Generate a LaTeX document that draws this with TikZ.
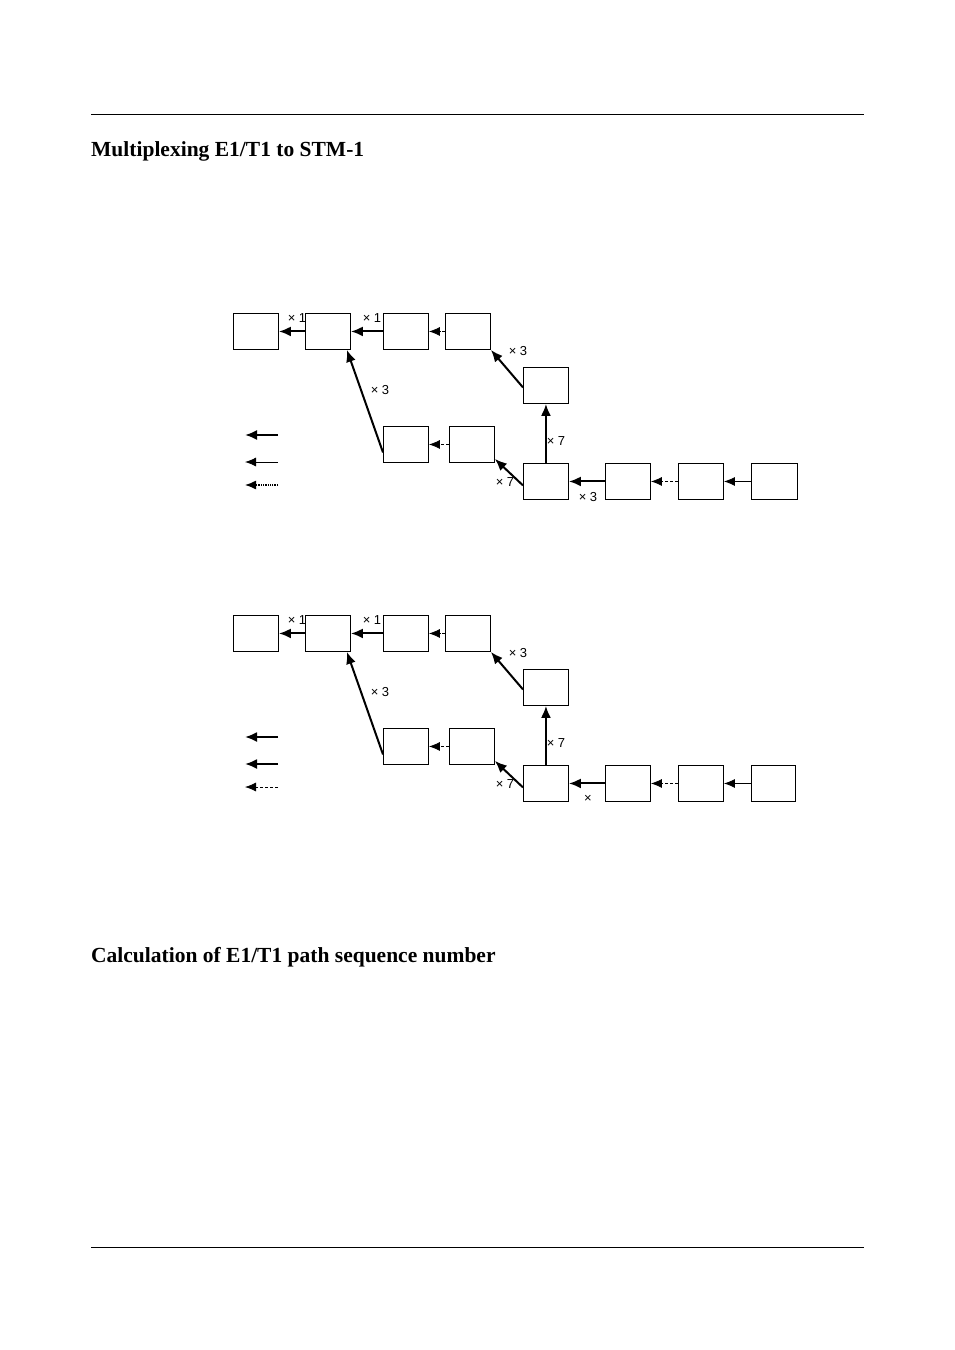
\documentclass[tikz,border=0pt]{standalone}
\usepackage{fontspec}
\setmainfont{Liberation Serif}
\setsansfont{Liberation Sans}
\usetikzlibrary{arrows.meta}
\begin{document}
\begin{tikzpicture}[x=1pt,y=-1pt,
  bx/.style={draw,line width=0.9pt,minimum width=45pt,minimum height=36pt,inner sep=0pt,anchor=north west},
  thk/.style={line width=2pt,-{Latex[length=12pt,width=10pt]}},
  thn/.style={line width=0.9pt,-{Latex[length=11pt,width=9pt]}},
  dsh/.style={line width=0.8pt,densely dashed,-{Latex[length=11pt,width=9pt]}},
  dot/.style={line width=1.3pt,densely dotted,-{Latex[length=11pt,width=9pt]}},
  lb/.style={font=\sffamily\fontsize{13}{15}\selectfont,inner sep=1pt}]
\useasboundingbox (0,0) rectangle (954,1350);
\draw[line width=0.8pt] (91,114) -- (864,114);
\draw[line width=0.8pt] (91,1247) -- (864,1247);
\node[anchor=base west,inner sep=0pt,font=\bfseries\fontsize{21.5}{24}\selectfont] (h1) at (91,156) {Multiplexing E1/T1 to STM-1};
\node[anchor=base west,inner sep=0pt,font=\bfseries\fontsize{21.5}{24}\selectfont] (h2) at (91,962) {Calculation of E1/T1 path sequence number};
\foreach \o/\s/\kw/\third in {0/a/46/{× 3}, 302/b/44/{×}}{
\begin{scope}[yshift=-\o pt]
\node[bx] (A\s) at (233,313) {};
\node[bx] (B\s) at (305,313) {};
\node[bx] (C\s) at (383,313) {};
\node[bx] (D\s) at (445,313) {};
\node[bx] (E\s) at (523,367) {};
\node[bx] (F\s) at (383,426) {};
\node[bx] (G\s) at (449,426) {};
\node[bx] (H\s) at (523,463) {};
\node[bx] (I\s) at (605,463) {};
\node[bx] (J\s) at (678,463) {};
\node[bx,minimum width=\kw pt] (K\s) at (751,463) {};
\draw[thk] (B\s.west) -- (A\s.east);
\draw[thk] (C\s.west) -- (B\s.east);
\draw[dsh] (D\s.west) -- (C\s.east);
\draw[thk] ([yshift=-2pt]E\s.west) -- (D\s.south east);
\draw[thk] (H\s.north) -- (E\s.south);
\draw[thk] ([yshift=-8pt]F\s.west) -- ([xshift=-4pt]B\s.south east);
\draw[dsh] (G\s.west) -- (F\s.east);
\draw[thk] ([yshift=-4pt]H\s.west) -- ([yshift=4pt]G\s.south east);
\draw[thk] (I\s.west) -- (H\s.east);
\draw[dsh] (J\s.west) -- (I\s.east);
\draw[thn] (K\s.west) -- (J\s.east);
\node[lb] (l1\s) at (297,318) {× 1};
\node[lb] (l2\s) at (372,318) {× 1};
\node[lb] (l3\s) at (518,351) {× 3};
\node[lb] (l4\s) at (380,390) {× 3};
\node[lb] (l5\s) at (556,441) {× 7};
\node[lb] (l6\s) at (505,482) {× 7};
\node[lb] (l7\s) at (588,497) {\third};
\coordinate (p1\s) at (278,435); \coordinate (q1\s) at (245,435);
\coordinate (p2\s) at (278,462); \coordinate (q2\s) at (245,462);
\coordinate (p3\s) at (278,485); \coordinate (q3\s) at (245,485);
\draw[thk] (p1\s) -- (q1\s);
\end{scope}}
\draw[thn] (p2a) -- (q2a);
\draw[dot] (p3a) -- (q3a);
\draw[thk] (p2b) -- (q2b);
\draw[dsh] (p3b) -- (q3b);
\end{tikzpicture}
\end{document}
